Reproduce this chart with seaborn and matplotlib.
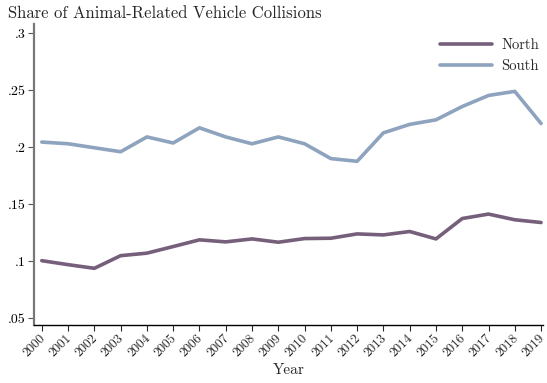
import matplotlib
matplotlib.use("Agg")
import matplotlib.pyplot as plt
import matplotlib.transforms as mtransforms
import seaborn as sns
import pandas as pd

years = list(range(2000, 2020))
north = [0.1004, 0.0969, 0.0937, 0.1048, 0.1070, 0.1128, 0.1187, 0.1169, 0.1195, 0.1166,
         0.1198, 0.1201, 0.1239, 0.1230, 0.1260, 0.1195, 0.1374, 0.1413, 0.1363, 0.1339]
south = [0.2045, 0.2030, 0.1995, 0.1960, 0.2090, 0.2037, 0.2170, 0.2090, 0.2030, 0.2090,
         0.2030, 0.1900, 0.1876, 0.2126, 0.2200, 0.2240, 0.2357, 0.2454, 0.2490, 0.2208]
yticks = [0.05, 0.10, 0.15, 0.20, 0.25, 0.30]
ytick_labels = [".05", ".1", ".15", ".2", ".25", ".3"]

df = pd.DataFrame({
    "Year": years * 2,
    "Share": north + south,
    "Region": ["North"] * len(years) + ["South"] * len(years),
})

sns.set_style("white")
plt.rcParams["font.family"] = ["cmr10", "DejaVu Serif"]
plt.rcParams["axes.formatter.use_mathtext"] = True

fig, ax = plt.subplots(figsize=(5.47, 3.83), dpi=100)
fig.subplots_adjust(left=0.062, right=0.993, top=0.937, bottom=0.151)

sns.lineplot(data=df, x="Year", y="Share", hue="Region",
             palette={"North": "#765f7b", "South": "#8ea3bd"},
             linewidth=2.6, ax=ax)

ax.set_xlim(1999.7, 2019.08)
ax.set_ylim(0.0438, 0.308)
ax.set_yticks(yticks)
ax.set_yticklabels(ytick_labels)
ax.set_xticks(years)
ax.set_xticklabels([str(y) for y in years], rotation=45, ha="right",
                   rotation_mode="anchor")
ax.tick_params(axis="both", which="both", direction="out", length=4,
               width=0.8, labelsize=10, pad=2, left=True, bottom=True)
ax.tick_params(axis="x", labelsize=9.5, pad=1)
ax.tick_params(axis="y", colors="#555555", labelcolor="black")
# nudge the rotated year labels slightly left so the last one stays inside
shift = mtransforms.ScaledTranslation(-2 / 72, 0, fig.dpi_scale_trans)
for lbl in ax.get_xticklabels():
    lbl.set_transform(lbl.get_transform() + shift)
ax.set_xlabel("Year", fontsize=11, labelpad=3)
ax.set_ylabel("")

for side in ("top", "right"):
    ax.spines[side].set_visible(False)
ax.spines["left"].set_color("#777777")
ax.spines["left"].set_linewidth(1.6)
ax.spines["bottom"].set_color("black")
ax.spines["bottom"].set_linewidth(1.0)

fig.text(0.015, 0.965, "Share of Animal-Related Vehicle Collisions",
         fontsize=12, ha="left", va="center")

leg = ax.legend(loc="upper right", bbox_to_anchor=(1.02, 1.0), frameon=False,
                fontsize=10.5, handlelength=3.6, handletextpad=0.6,
                labelspacing=0.45, borderaxespad=0.6, title=None)

fig.savefig("out.png", dpi=100)
